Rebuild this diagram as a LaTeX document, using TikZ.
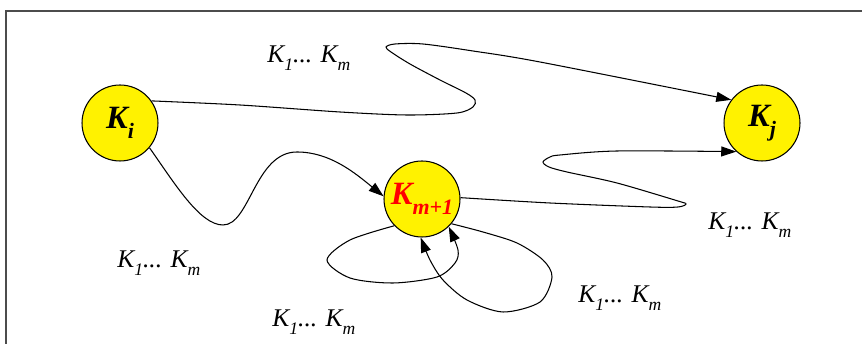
\documentclass[tikz,border=0pt]{standalone}
\usepackage{fontspec}
\setmainfont{Liberation Serif}
\usetikzlibrary{arrows.meta}
\tikzset{
  st/.style   ={circle,draw,fill=yellow,minimum size=1.52cm,inner sep=0pt,line width=0.6pt},
  arr/.style  ={-{Triangle[length=3mm,width=2mm]},line width=0.6pt},
  lbl/.style  ={anchor=base west,inner sep=0pt,font=\fontsize{14.5}{16}\selectfont\itshape},
  frm/.style  ={line width=1.2pt,black!70},
}
\newcommand{\lo}[1]{\raisebox{-0.3em}{\fontsize{10}{10}\selectfont #1}}
\newcommand{\kseq}{K\lo{1}... K\lo{m}}
\newcommand{\kname}[1]{\fontsize{18.5}{20}\selectfont\bfseries\itshape K\raisebox{-0.3em}{\fontsize{12.5}{13}\selectfont #1}}

\begin{document}
\begin{tikzpicture}[x=0.02cm,y=0.02cm]
  \useasboundingbox (0,0) rectangle (862,344);
  \draw[frm] (6,0) |- (862,333);

  \node[st] (ki) at (120,221) {\kname{i}};
  \node[st] (km) at (422,145) {\color{red}\kname{m+1}};
  \node[st] (kj) at (762,221) {\kname{j}};

  % K_i -> K_j, the long wiggly one on top
  \draw[arr] plot[smooth] coordinates {(ki.35) (240,239) (340,232) (407,229) (457,231)
    (473,237) (475,244) (466,251) (440,264) (410,280) (391,292) (386,297) (395,300)
    (423,300) (473,293) (540,282) (kj.143)};
  % K_i -> K_m+1
  \draw[arr] (ki.-40) .. controls (175,160) and (200,119) .. (223,119)
    .. controls (250,119) and (255,192) .. (297,192)
    .. controls (330,192) and (355,171) .. (km.176);
  % K_m+1 -> K_j
  \draw[arr] plot[smooth] coordinates {(km.2) (550,141) (650,137) (678,137) (686,140)
    (678,143) (617,161) (567,172) (549,177) (543,182) (550,187) (560,189) (617,193)
    (kj.-132)};
  % self loops
  \draw[arr] plot[smooth] coordinates {(km.-136) (350,104) (327,84) (350,66) (393,61)
    (437,67) (455,81) (458,94) (km.-46)};
  \draw[arr] plot[smooth] coordinates {(km.-40) (483,112) (517,101) (543,84) (552,67)
    (540,42) (503,32) (467,44) (443,64) (430,84) (km.-92)};

  \node[lbl] (l1) at (267,281) {\kseq};
  \node[lbl] (l2) at (117,76) {\kseq};
  \node[lbl] (l3) at (272,17) {\kseq};
  \node[lbl] (l4) at (578,41) {\kseq};
  \node[lbl] (l5) at (708,114) {\kseq};
\end{tikzpicture}
\end{document}
